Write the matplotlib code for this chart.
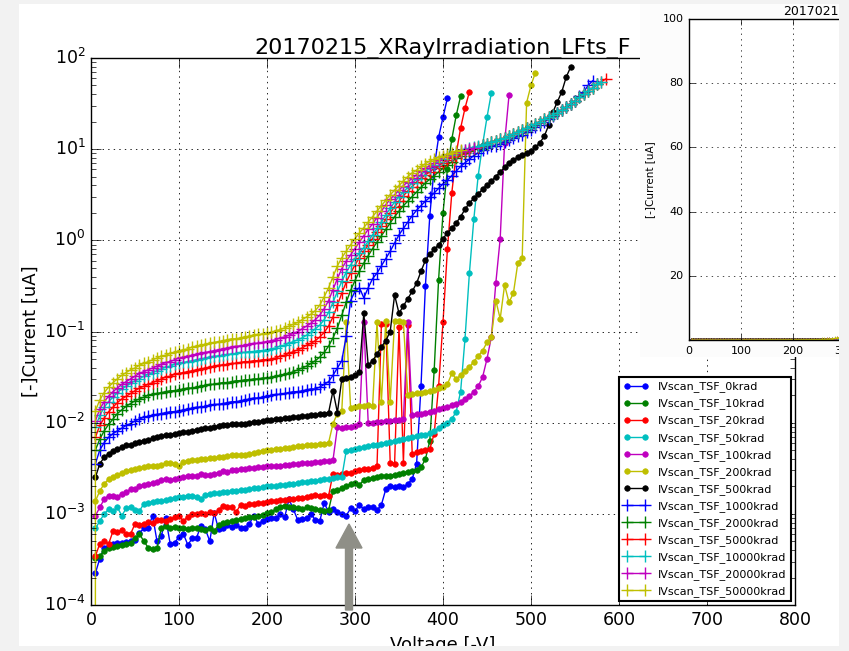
import numpy as np
import matplotlib
matplotlib.use("Agg")
import matplotlib.pyplot as plt
from matplotlib.patches import Rectangle, FancyArrow

plt.style.use("classic")

TITLE = "20170215_XRayIrradiation_LFts_F"
V_STEP = 5  # scan step [V]; every scan starts at 5 V

# log10 of the leakage current [uA], one value per scan step
log_0krad = [
    -3.65, -3.49, -3.37, -3.35, -3.33, -3.32, -3.32, -3.31, -3.30, -3.29,
    -3.21, -3.16, -3.15, -3.02, -3.30, -3.24, -3.05, -3.33, -3.32, -3.25,
    -3.22, -3.34, -3.27, -3.26, -3.13, -3.17, -3.30, -2.99, -3.17, -3.15,
    -3.12, -3.14, -3.12, -3.15, -3.16, -3.11, -3.02, -3.11, -3.08, -3.06,
    -3.05, -3.05, -3.00, -3.04, -2.84, -2.95, -3.07, -3.06, -3.05, -3.00,
    -3.07, -3.08, -2.88, -2.98, -2.95, -2.98, -3.00, -3.02, -2.94, -2.97,
    -2.90, -2.95, -2.93, -2.93, -2.96, -2.90, -2.73, -2.69, -2.71, -2.69,
    -2.71, -2.67, -2.62, -2.45, -1.60, -0.50, 0.27, 0.80, 1.13, 1.35,
    1.56,
]
log_10krad = [
    -3.48, -3.46, -3.41, -3.37, -3.36, -3.35, -3.34, -3.33, -3.32, -3.27,
    -3.22, -3.30, -3.37, -3.39, -3.38, -3.15, -3.13, -3.15, -3.14, -3.16,
    -3.15, -3.17, -3.16, -3.15, -3.17, -3.18, -3.16, -3.19, -3.12, -3.10,
    -3.09, -3.08, -3.07, -3.06, -3.05, -3.04, -3.03, -3.02, -3.01, -2.99,
    -2.98, -2.95, -2.92, -2.91, -2.93, -2.92, -2.94, -2.95, -2.93, -2.94,
    -2.95, -2.96, -2.97, -2.96, -2.75, -2.74, -2.72, -2.70, -2.67, -2.66,
    -2.68, -2.63, -2.62, -2.61, -2.60, -2.59, -2.58, -2.58, -2.57, -2.56,
    -2.55, -2.54, -2.53, -2.52, -2.49, -2.40, -2.20, -1.42, -0.43, 0.30,
    0.78, 1.11, 1.37, 1.58,
]
log_20krad = [
    -3.46, -3.33, -3.30, -3.33, -3.19, -3.20, -3.18, -3.22, -3.22, -3.11,
    -3.12, -3.11, -3.09, -3.10, -3.07, -3.07, -3.08, -3.06, -3.04, -3.02,
    -3.08, -3.03, -3.00, -3.00, -2.99, -3.00, -2.98, -2.99, -2.96, -2.91,
    -2.93, -2.93, -2.98, -2.90, -2.91, -2.89, -2.89, -2.88, -2.88, -2.87,
    -2.86, -2.86, -2.85, -2.85, -2.84, -2.84, -2.83, -2.83, -2.81, -2.80,
    -2.79, -2.80, -2.79, -2.80, -2.56, -2.57, -2.56, -2.55, -2.55, -2.53,
    -2.52, -2.51, -2.51, -2.50, -2.48, -0.92, -0.92, -2.44, -2.45, -0.95,
    -2.44, -0.93, -2.34, -2.32, -2.31, -2.30, -2.29, -2.12, -1.60, -0.90,
    -0.10, 0.52, 0.95, 1.23, 1.45, 1.63,
]
log_50krad = [
    -3.16, -3.08, -3.00, -2.95, -2.97, -2.93, -3.02, -2.94, -2.93, -2.96,
    -2.97, -2.89, -2.88, -2.87, -2.86, -2.86, -2.85, -2.84, -2.83, -2.82,
    -2.81, -2.80, -2.80, -2.81, -2.84, -2.79, -2.78, -2.77, -2.77, -2.76,
    -2.76, -2.75, -2.75, -2.74, -2.74, -2.73, -2.72, -2.72, -2.71, -2.70,
    -2.70, -2.69, -2.68, -2.68, -2.67, -2.67, -2.66, -2.65, -2.65, -2.64,
    -2.64, -2.63, -2.62, -2.62, -2.61, -2.60, -2.60, -2.31, -2.30, -2.29,
    -2.28, -2.27, -2.26, -2.25, -2.24, -2.23, -2.22, -2.21, -2.20, -2.19,
    -2.18, -2.17, -2.16, -2.15, -2.14, -2.13, -2.11, -2.09, -2.06, -2.03,
    -2.00, -1.96, -1.88, -1.66, -1.08, -0.36, 0.23, 0.71, 1.05, 1.35,
    1.62,
]
log_100krad = [
    -3.02, -2.93, -2.84, -2.80, -2.80, -2.81, -2.78, -2.76, -2.73, -2.73,
    -2.70, -2.68, -2.67, -2.66, -2.65, -2.63, -2.62, -2.63, -2.62, -2.61,
    -2.60, -2.59, -2.58, -2.58, -2.56, -2.57, -2.57, -2.56, -2.55, -2.53,
    -2.54, -2.52, -2.52, -2.51, -2.51, -2.50, -2.50, -2.49, -2.49, -2.48,
    -2.48, -2.47, -2.47, -2.46, -2.46, -2.45, -2.45, -2.44, -2.44, -2.44,
    -2.43, -2.43, -2.42, -2.42, -2.41, -2.05, -2.06, -2.05, -2.05, -2.04,
    -2.01, -0.90, -2.00, -2.00, -1.99, -1.99, -1.98, -1.98, -1.97, -1.97,
    -1.96, -0.90, -1.92, -1.91, -1.90, -1.89, -1.88, -1.87, -1.85, -1.84,
    -1.83, -1.81, -1.79, -1.77, -1.74, -1.71, -1.66, -1.60, -1.50, -1.30,
    -1.06, -0.47, 0.02, 1.07, 1.59,
]
log_200krad = [
    -2.86, -2.75, -2.67, -2.62, -2.60, -2.57, -2.55, -2.53, -2.52, -2.51,
    -2.50, -2.49, -2.48, -2.48, -2.47, -2.46, -2.44, -2.44, -2.45, -2.47,
    -2.43, -2.42, -2.41, -2.41, -2.40, -2.40, -2.39, -2.39, -2.38, -2.38,
    -2.37, -2.36, -2.36, -2.35, -2.35, -2.34, -2.33, -2.32, -2.31, -2.30,
    -2.30, -2.29, -2.29, -2.28, -2.28, -2.27, -2.26, -2.26, -2.25, -2.25,
    -2.24, -2.23, -2.23, -2.22, -2.01, -1.90, -1.87, -0.90, -1.84, -1.83,
    -1.82, -1.82, -1.81, -1.82, -0.90, -1.77, -0.88, -1.77, -0.88, -0.88,
    -0.90, -1.70, -1.69, -1.68, -1.67, -1.66, -1.65, -1.64, -1.62, -1.61,
    -1.58, -1.46, -1.52, -1.48, -1.43, -1.39, -1.33, -1.27, -1.21, -1.12,
    -1.06, -0.66, -0.86, -0.49, -0.68, -0.58, -0.25, -0.19, 1.51, 1.70,
    1.84,
]
log_500krad = [
    -2.60, -2.45, -2.38, -2.34, -2.31, -2.29, -2.27, -2.25, -2.24, -2.22,
    -2.21, -2.20, -2.19, -2.17, -2.16, -2.15, -2.14, -2.13, -2.12, -2.11,
    -2.10, -2.10, -2.09, -2.08, -2.07, -2.06, -2.06, -2.05, -2.04, -2.03,
    -2.03, -2.02, -2.02, -2.01, -2.01, -2.00, -1.99, -1.99, -1.98, -1.97,
    -1.97, -1.96, -1.96, -1.95, -1.95, -1.94, -1.94, -1.93, -1.93, -1.92,
    -1.92, -1.91, -1.90, -1.89, -1.65, -1.89, -1.52, -1.51, -1.50, -1.48,
    -1.44, -0.80, -1.37, -1.32, -1.25, -1.17, -1.10, -1.00, -0.60, -0.80,
    -0.72, -0.64, -0.56, -0.47, -0.34, -0.22, -0.15, -0.10, -0.05, 0.02,
    0.08, 0.13, 0.19, 0.26, 0.34, 0.41, 0.46, 0.51, 0.56, 0.61,
    0.65, 0.70, 0.75, 0.80, 0.85, 0.88, 0.91, 0.94, 0.96, 0.98,
    1.02, 1.07, 1.14, 1.26, 1.41, 1.52, 1.63, 1.79, 1.90,
]
log_1000krad = [
    -2.45, -2.30, -2.22, -2.16, -2.12, -2.09, -2.06, -2.03, -2.01, -1.98,
    -1.96, -1.94, -1.93, -1.92, -1.91, -1.90, -1.89, -1.88, -1.88, -1.87,
    -1.86, -1.85, -1.84, -1.83, -1.83, -1.82, -1.81, -1.80, -1.80, -1.79,
    -1.78, -1.77, -1.77, -1.76, -1.75, -1.74, -1.73, -1.73, -1.72, -1.71,
    -1.70, -1.69, -1.69, -1.68, -1.67, -1.66, -1.66, -1.65, -1.64, -1.63,
    -1.63, -1.61, -1.58, -1.55, -1.48, -1.40, -1.32, -1.05, -0.66, -0.56,
    -0.52, -0.63, -0.52, -0.42, -0.36, -0.28, -0.20, -0.12, -0.03, 0.06,
    0.13, 0.20, 0.27, 0.33, 0.38, 0.43, 0.47, 0.52, 0.57, 0.62,
    0.66, 0.71, 0.76, 0.81, 0.85, 0.89, 0.93, 0.96, 0.99, 1.01,
    1.03, 1.04, 1.06, 1.08, 1.10, 1.12, 1.14, 1.16, 1.19, 1.21,
    1.24, 1.27, 1.30, 1.33, 1.36, 1.40, 1.43, 1.46, 1.49, 1.53,
    1.58, 1.63, 1.70, 1.75,
]

# above 445 V the 2000/5000/10000 krad scans sit on one common curve
log_common_tail = [
    1.05, 1.06, 1.08, 1.09, 1.11, 1.12, 1.14, 1.17, 1.19, 1.21,
    1.23, 1.25, 1.28, 1.30, 1.33, 1.35, 1.38, 1.40, 1.43, 1.46,
    1.50, 1.53, 1.57, 1.60, 1.64, 1.67, 1.71, 1.74, 1.77,
]
log_2000krad = [
    -2.30, -2.18, -2.09, -2.02, -1.96, -1.90, -1.86, -1.82, -1.79, -1.76,
    -1.74, -1.72, -1.70, -1.69, -1.68, -1.67, -1.66, -1.65, -1.65, -1.64,
    -1.63, -1.62, -1.62, -1.61, -1.60, -1.59, -1.58, -1.58, -1.57, -1.56,
    -1.56, -1.55, -1.54, -1.54, -1.53, -1.53, -1.52, -1.52, -1.51, -1.51,
    -1.50, -1.49, -1.48, -1.47, -1.46, -1.44, -1.42, -1.40, -1.38, -1.35,
    -1.32, -1.28, -1.23, -1.16, -1.07, -0.96, -0.82, -0.68, -0.55, -0.44,
    -0.34, -0.25, -0.17, -0.09, -0.02, 0.05, 0.12, 0.19, 0.26, 0.32,
    0.38, 0.43, 0.48, 0.53, 0.58, 0.63, 0.67, 0.71, 0.75, 0.79,
    0.83, 0.86, 0.90, 0.93, 0.96, 0.98, 1.00, 1.02,
] + log_common_tail[:27]
log_5000krad = [
    -2.16, -2.03, -1.95, -1.88, -1.83, -1.78, -1.74, -1.71, -1.68, -1.65,
    -1.62, -1.60, -1.58, -1.56, -1.54, -1.52, -1.50, -1.49, -1.47, -1.46,
    -1.45, -1.44, -1.43, -1.42, -1.41, -1.40, -1.39, -1.38, -1.37, -1.37,
    -1.36, -1.35, -1.35, -1.34, -1.33, -1.33, -1.32, -1.32, -1.31, -1.31,
    -1.30, -1.29, -1.27, -1.26, -1.24, -1.22, -1.20, -1.18, -1.15, -1.13,
    -1.10, -1.06, -1.01, -0.94, -0.84, -0.71, -0.58, -0.46, -0.36, -0.27,
    -0.19, -0.12, -0.05, 0.02, 0.09, 0.16, 0.23, 0.30, 0.37, 0.43,
    0.49, 0.54, 0.59, 0.64, 0.68, 0.72, 0.75, 0.79, 0.82, 0.85,
    0.88, 0.91, 0.93, 0.95, 0.97, 0.99, 1.01, 1.02,
] + log_common_tail
log_10000krad = [
    -2.05, -1.92, -1.83, -1.77, -1.72, -1.67, -1.63, -1.60, -1.57, -1.54,
    -1.52, -1.49, -1.47, -1.45, -1.43, -1.41, -1.39, -1.38, -1.36, -1.35,
    -1.34, -1.33, -1.32, -1.31, -1.30, -1.29, -1.28, -1.27, -1.27, -1.26,
    -1.25, -1.25, -1.24, -1.23, -1.23, -1.22, -1.22, -1.21, -1.21, -1.20,
    -1.19, -1.18, -1.16, -1.15, -1.13, -1.11, -1.09, -1.07, -1.04, -1.01,
    -0.97, -0.93, -0.87, -0.79, -0.68, -0.56, -0.45, -0.35, -0.27, -0.20,
    -0.14, -0.08, -0.01, 0.06, 0.13, 0.20, 0.28, 0.35, 0.42, 0.48,
    0.53, 0.58, 0.63, 0.67, 0.72, 0.76, 0.79, 0.83, 0.86, 0.89,
    0.92, 0.94, 0.96, 0.98, 0.99, 1.01, 1.02, 1.03,
] + log_common_tail[:28]
log_20000krad = [
    -1.98, -1.85, -1.77, -1.71, -1.66, -1.62, -1.58, -1.55, -1.52, -1.49,
    -1.46, -1.44, -1.42, -1.40, -1.38, -1.36, -1.34, -1.33, -1.31, -1.29,
    -1.28, -1.27, -1.26, -1.25, -1.24, -1.23, -1.22, -1.21, -1.20, -1.19,
    -1.18, -1.17, -1.16, -1.16, -1.15, -1.14, -1.13, -1.13, -1.12, -1.11,
    -1.10, -1.09, -1.07, -1.06, -1.04, -1.02, -1.00, -0.97, -0.94, -0.91,
    -0.87, -0.82, -0.75, -0.66, -0.54, -0.42, -0.31, -0.23, -0.16, -0.09,
    -0.02, 0.05, 0.12, 0.18, 0.25, 0.32, 0.39, 0.45, 0.50, 0.55,
    0.60, 0.64, 0.68, 0.72, 0.76, 0.79, 0.82, 0.85, 0.88, 0.91,
    0.93, 0.95, 0.97, 0.98, 0.99, 1.00, 1.01,
]
# first reading of this scan is far below range, logged twice at 5 V
log_50000krad = [
    -5.00,
    -1.87, -1.75, -1.67, -1.61, -1.56, -1.52, -1.48, -1.45, -1.42, -1.40,
    -1.37, -1.35, -1.33, -1.31, -1.29, -1.27, -1.26, -1.24, -1.23, -1.21,
    -1.20, -1.19, -1.17, -1.16, -1.15, -1.14, -1.13, -1.12, -1.11, -1.10,
    -1.09, -1.08, -1.08, -1.07, -1.06, -1.05, -1.04, -1.03, -1.03, -1.02,
    -1.01, -0.99, -0.98, -0.96, -0.94, -0.92, -0.90, -0.87, -0.84, -0.81,
    -0.77, -0.71, -0.62, -0.52, -0.40, -0.28, -0.19, -0.12, -0.05, 0.02,
    0.08, 0.14, 0.20, 0.26, 0.32, 0.38, 0.44, 0.50, 0.55, 0.60,
    0.65, 0.70, 0.74, 0.77, 0.81, 0.84, 0.87, 0.89, 0.91, 0.93,
    0.95, 0.96, 0.98, 0.99,
]


def scan_volts(n):
    return V_STEP * np.arange(1, n + 1)


v_50000 = np.r_[V_STEP, scan_volts(len(log_50000krad) - 1)]

series = [
    ("IVscan_TSF_0krad", scan_volts(len(log_0krad)), log_0krad, "b", "o"),
    ("IVscan_TSF_10krad", scan_volts(len(log_10krad)), log_10krad, "g", "o"),
    ("IVscan_TSF_20krad", scan_volts(len(log_20krad)), log_20krad, "r", "o"),
    ("IVscan_TSF_50krad", scan_volts(len(log_50krad)), log_50krad, "c", "o"),
    ("IVscan_TSF_100krad", scan_volts(len(log_100krad)), log_100krad, "m", "o"),
    ("IVscan_TSF_200krad", scan_volts(len(log_200krad)), log_200krad, "y", "o"),
    ("IVscan_TSF_500krad", scan_volts(len(log_500krad)), log_500krad, "k", "o"),
    ("IVscan_TSF_1000krad", scan_volts(len(log_1000krad)), log_1000krad, "b", "+"),
    ("IVscan_TSF_2000krad", scan_volts(len(log_2000krad)), log_2000krad, "g", "+"),
    ("IVscan_TSF_5000krad", scan_volts(len(log_5000krad)), log_5000krad, "r", "+"),
    ("IVscan_TSF_10000krad", scan_volts(len(log_10000krad)), log_10000krad, "c", "+"),
    ("IVscan_TSF_20000krad", scan_volts(len(log_20000krad)), log_20000krad, "m", "+"),
    ("IVscan_TSF_50000krad", v_50000, log_50000krad, "y", "+"),
]

W, H = 849, 651
fig = plt.figure(figsize=(W / 100, H / 100), dpi=100, facecolor="white")

# main log-scale plot
ax = fig.add_axes([91 / W, 1 - 605 / H, 704 / W, 547 / H])
for label, volts, logs, color, marker in series:
    cur = 10 ** np.asarray(logs)
    if marker == "o":
        ax.plot(volts, cur, color=color, marker="o", ms=4, mec=color, mew=0.5,
                lw=1.0, label=label)
    else:
        ax.plot(volts, cur, color=color, marker="+", ms=8, mec=color, mew=1.0,
                lw=1.0, label=label)
ax.set_yscale("log")
ax.set_xlim(0, 800)
ax.set_ylim(1e-4, 1e2)
ax.set_xticks(np.arange(0, 801, 100))
ax.grid(True, which="major", color="k", linestyle=":", linewidth=0.6)
ax.tick_params(which="major", direction="in", length=7, top=True, right=True,
               labelsize=12.5)
ax.tick_params(which="minor", direction="in", length=3.5, top=True, right=True)
ax.set_title(TITLE, fontsize=16, pad=3)
ax.set_ylabel("[-]Current [uA]", fontsize=13, labelpad=3)
ax.set_xlabel("Voltage [-V]", fontsize=13)

leg = ax.legend(loc="lower right", fontsize=8, numpoints=2, labelspacing=0.55,
                handlelength=2.2, handletextpad=0.9, borderpad=0.4,
                borderaxespad=0.35, fancybox=False, frameon=True)
leg.get_frame().set_edgecolor("k")
leg.get_frame().set_linewidth(1.5)

# grey arrow marking the step near 290 V
fig.add_artist(FancyArrow(3.49, 0.41, 0, 0.86, width=0.07, head_width=0.26,
                          head_length=0.24, length_includes_head=True,
                          transform=fig.dpi_scale_trans, color="#8f8f87",
                          zorder=4))

# second window with the linear-scale view
fig.add_artist(Rectangle((640 / W, 1 - 357 / H), 209 / W, 357 / H,
                         transform=fig.transFigure, facecolor="#fcfcfc",
                         edgecolor="none", zorder=5))
lin = fig.add_axes([689 / W, 1 - 340 / H, 416 / W, 321 / H], zorder=6)
for label, volts, logs, color, marker in series:
    cur = 10 ** np.asarray(logs)
    lin.plot(volts, cur, color=color, marker=marker, ms=2.5, mec=color,
             mew=0.5, lw=0.8)
lin.set_xlim(0, 800)
lin.set_ylim(0, 100)
lin.set_xticks(np.arange(0, 801, 100))
lin.set_yticks([20, 40, 60, 80, 100])
lin.grid(True, color="k", linestyle=":", linewidth=0.5)
lin.tick_params(direction="in", length=4, top=True, right=True, labelsize=8)
lin.set_title(TITLE, fontsize=9, pad=3, x=0.48)
lin.set_ylabel("[-]Current [uA]", fontsize=7.5)

# light grey border around the window
for rect in [(0, 0, 19 / W, 1), (839 / W, 0, 10 / W, 1),
             (0, 1 - 4 / H, 1, 4 / H), (0, 0, 1, 5 / H)]:
    fig.add_artist(Rectangle(rect[:2], rect[2], rect[3],
                             transform=fig.transFigure, facecolor="#f2f2f2",
                             edgecolor="none", zorder=20))

fig.savefig("out.png", dpi=100, facecolor=fig.get_facecolor())
